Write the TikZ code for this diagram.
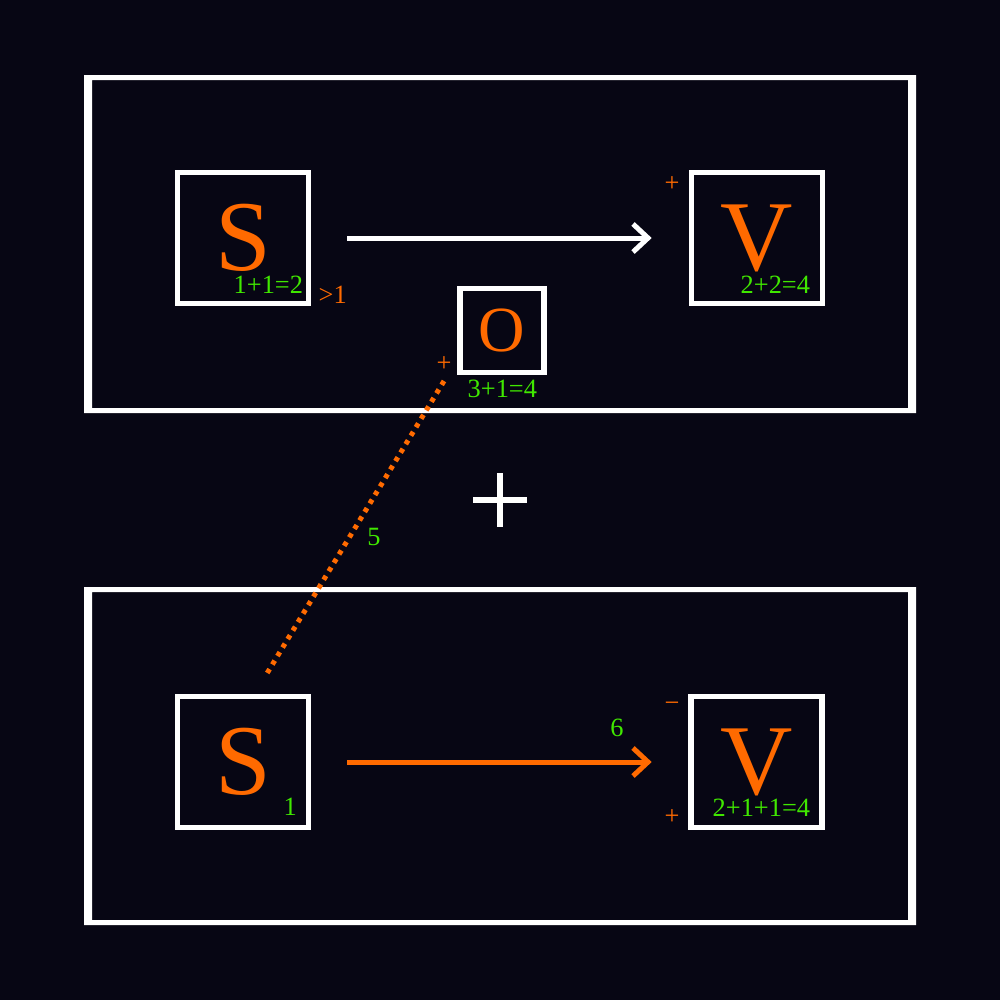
\documentclass[tikz,border=0pt]{standalone}
\usepackage{fontspec}
\setmainfont{Liberation Serif}
\usetikzlibrary{arrows.meta}
\definecolor{bg}{RGB}{7,6,20}
\definecolor{org}{RGB}{255,106,0}
\definecolor{grn}{RGB}{64,232,0}
\begin{document}
\begin{tikzpicture}[x=0.01cm,y=-0.01cm,
  frame/.style={fill=white, even odd rule},
  box/.style={draw=white, line width=0.055cm, minimum size=1.31cm, inner sep=0pt,
    text=org, font=\fontsize{28.5}{30}\selectfont},
  smallbox/.style={draw=white, line width=0.055cm, minimum size=0.84cm, inner sep=0pt,
    text=org, font=\fontsize{18.3}{20}\selectfont},
  num/.style={text=grn, font=\fontsize{7.5}{9}\selectfont, inner sep=0pt},
  sign/.style={text=org, font=\fontsize{7.5}{9}\selectfont, inner sep=0pt},
  conn/.style={line width=0.05cm, -{Straight Barb[length=0.15cm,width=0.28cm]}}
]
\fill[bg] (0,0) rectangle (1000,1000);
\useasboundingbox (0,0) rectangle (1000,1000);

% frames
\path[frame] (84,75) rectangle (916,413) (92,80) rectangle (908,408);
\path[frame] (84,587) rectangle (916,925) (92,592) rectangle (908,920);

% top panel
\node[box] (S1) at (243,238) {S};
\node[box] (V1) at (757,238) {V};
\node[smallbox] (O1) at (502,330.5) {O};
\node[num, anchor=base west] (l1) at (233,293) {1+1=2};
\node[sign, anchor=base west] (l2) at (318,303) {>1};
\node[sign] (l3) at (444,364) {+};
\node[num, anchor=base west] (l4) at (467,397) {3+1=4};
\node[sign] (l5) at (672,184) {+};
\node[num, anchor=base west] (l6) at (740,293) {2+2=4};
\draw[conn, white, shorten <=0.36cm, shorten >=0.37cm] (S1.east) -- (V1.west);

% big plus
\draw[white, line width=0.06cm] (473,500) -- (527,500) (500,473) -- (500,527);

% bottom panel
\node[box] (S2) at (243,762) {S};
\node[box] (V2) at (756.5,762) {V};
\node[num, anchor=base west] (l7) at (283,815) {1};
\node[sign] (l8) at (672,707) {−};
\node[sign] (l9) at (672,817) {+};
\node[num, anchor=base west] (l10) at (712,816) {2+1+1=4};
\node[num] (l11) at (617,728) {6};
\node[num] (l12) at (374,537) {5};
\draw[conn, org, shorten <=0.36cm, shorten >=0.365cm] (S2.east) -- (V2.west);

% dotted connector
\coordinate (d1) at (444,381);
\coordinate (d2) at (266,675);
\draw[org, line width=0.05cm, dash pattern=on 0.045cm off 0.054cm] (d1) -- (d2);
\end{tikzpicture}
\end{document}
